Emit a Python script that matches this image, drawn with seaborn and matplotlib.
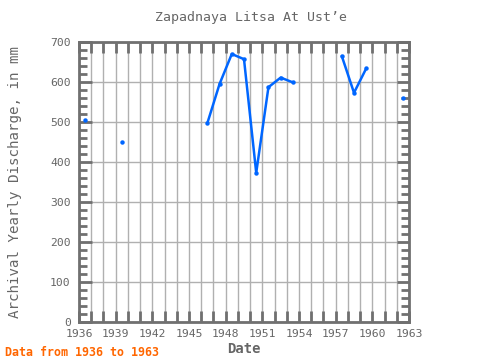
import numpy as np
import pandas as pd
import matplotlib
matplotlib.use("Agg")
import matplotlib.pyplot as plt
from matplotlib.ticker import MultipleLocator
import seaborn as sns

years = [1936, 1939, 1946, 1947, 1948, 1949, 1950, 1951, 1952, 1953, 1957, 1958, 1959, 1962]
values = [505, 450, 497, 595, 670, 657, 373, 587, 611, 599, 665, 573, 634, 560]
xticks = [1936, 1939, 1942, 1945, 1948, 1951, 1954, 1957, 1960, 1963]
yticks = [0, 100, 200, 300, 400, 500, 600, 700]

title = "Zapadnaya Litsa At Ust\u2019e"
ylabel = "Archival Yearly Discharge, in mm"
xlabel = "Date"
note = "Data from 1936 to 1963"

# build segments (break lines at missing years)
seg = []
s = 0
for i, y in enumerate(years):
    if i > 0 and y - years[i - 1] > 1:
        s += 1
    seg.append(s)
df = pd.DataFrame({"year": years, "value": values, "seg": seg})
df["x"] = df["year"] + 0.5

sns.set_style("white")
plt.rcParams["font.family"] = ["DejaVu Sans Mono", "DejaVu Sans"]

fig = plt.figure(figsize=(4.8, 3.6), dpi=100)
ax = fig.add_axes([79 / 480, 1 - 322 / 360, 330 / 480, 280 / 360])

sns.lineplot(data=df, x="x", y="value", units="seg", estimator=None,
             color="#0066ff", linewidth=1.8, marker="o", markersize=3.2,
             markeredgewidth=0, ax=ax, legend=False)

ax.set_xlim(1936, 1963)
ax.set_ylim(0, 700)
ax.set_xticks(xticks)
ax.set_xticklabels([str(t) for t in xticks])
ax.xaxis.set_minor_locator(MultipleLocator(1))
ax.set_yticks(yticks)
ax.yaxis.set_minor_locator(MultipleLocator(20))

ax.grid(True, which="major", axis="y", color="#b0b0b0", linewidth=1)
ax.grid(True, which="both", axis="x", color="#b0b0b0", linewidth=1)
ax.set_axisbelow(True)

for sp in ax.spines.values():
    sp.set_color("#707070")
    sp.set_linewidth(2)
    sp.set_visible(True)

ax.tick_params(axis="x", which="both", direction="in", length=8, width=2,
               color="#707070", top=True, bottom=True, labelsize=8.2,
               labelcolor="#666666", pad=5)
ax.tick_params(axis="y", which="major", direction="in", length=9, width=2,
               color="#707070", left=True, right=True, labelsize=8.2,
               labelcolor="#666666", pad=6)
ax.tick_params(axis="y", which="minor", direction="in", length=6, width=2,
               color="#707070", left=True, right=True)

ax.set_xlabel(xlabel, fontsize=10, color="#666666", fontweight="bold", labelpad=2)
ax.set_ylabel(ylabel, fontsize=10.2, color="#666666", labelpad=20)
fig.text(251 / 480, 1 - 17 / 360, title, ha="center", va="center",
         fontsize=9.5, color="#666666")
fig.text(5 / 480, 1 - 352 / 360, note, ha="left", va="center",
         fontsize=8.4, color="#ff6600", fontweight="bold")

fig.savefig("out.png", dpi=100)
